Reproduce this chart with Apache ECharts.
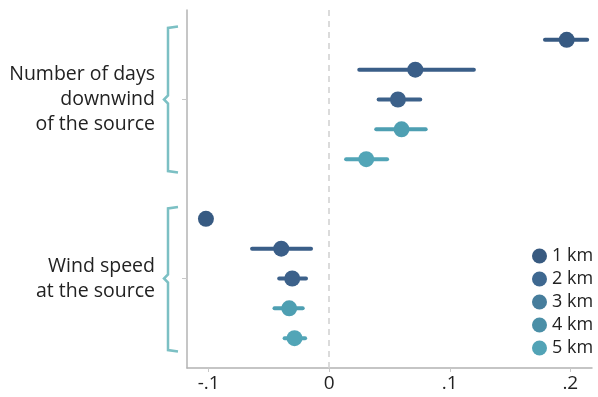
<!DOCTYPE html>
<html>
<head>
<meta charset="utf-8">
<script src="https://cdn.jsdelivr.net/npm/echarts@6/dist/echarts.min.js"></script>
<style>
html,body{margin:0;padding:0;background:#fff;}
#chart{width:598px;height:397px;}
</style>
</head>
<body>
<div id="chart"></div>
<script>
// Data
var distances = ['1 km', '2 km', '3 km', '4 km', '5 km'];
var groups = ['Number of days\ndownwind\nof the source', 'Wind speed\nat the source'];
var groupCenterRows = [2, 8];
// estimates per distance: [days downwind, wind speed]
var est1 = [0.197, -0.1023];
var est2 = [0.0714, -0.0398];
var est3 = [0.057, -0.0307];
var est4 = [0.060, -0.0332];
var est5 = [0.0307, -0.0288];
// confidence interval lows / highs
var lo1 = [0.179, -0.1023], hi1 = [0.214, -0.1023];
var lo2 = [0.0249, -0.064], hi2 = [0.120, -0.0151];
var lo3 = [0.041, -0.0415], hi3 = [0.0755, -0.0193];
var lo4 = [0.039, -0.0454], hi4 = [0.080, -0.022];
var lo5 = [0.014, -0.037], hi5 = [0.048, -0.020];
var xTicks = [-0.1, 0, 0.1, 0.2];
var xTickLabels = ['-.1', '0', '.1', '.2'];

var ests = [est1, est2, est3, est4, est5];
var los = [lo1, lo2, lo3, lo4, lo5];
var his = [hi1, hi2, hi3, hi4, hi5];
var plotColors = ['#375a82', '#3a5e88', '#3c618a', '#4e9fb2', '#52a5b7'];
var legendColors = ['#385a80', '#3e6890', '#467d9c', '#4b8fa7', '#52a3b6'];
var fontFam = '"Open Sans", Lato, sans-serif';
var xMin = -0.118, xMax = 0.218;

function rowOf(g, d) { return g * 6 + d; }

var series = [];
distances.forEach(function (name, d) {
  var errData = [], ptData = [];
  for (var g = 0; g < 2; g++) {
    errData.push([rowOf(g, d), los[d][g], his[d][g]]);
    ptData.push([ests[d][g], rowOf(g, d)]);
  }
  series.push({
    name: name,
    type: 'custom',
    encode: { x: [1, 2], y: 0 },
    data: errData,
    z: 2,
    renderItem: function (params, api) {
      var a = api.coord([api.value(1), api.value(0)]);
      var b = api.coord([api.value(2), api.value(0)]);
      return {
        type: 'line',
        shape: { x1: a[0], y1: a[1], x2: b[0], y2: b[1] },
        style: { stroke: plotColors[d], lineWidth: 4, lineCap: 'round' }
      };
    }
  });
  series.push({
    name: name,
    type: 'scatter',
    symbol: 'circle',
    symbolSize: 16,
    itemStyle: { color: plotColors[d], opacity: 1 },
    data: ptData,
    z: 3
  });
});

// group brackets
series.push({
  type: 'custom',
  silent: true,
  clip: false,
  encode: { x: 0, y: [1, 2, 3] },
  data: [[xMin, -0.45, 4.45, 2], [xMin, 5.6, 10.45, 8]],
  renderItem: function (params, api) {
    var top = api.coord([api.value(0), api.value(1)]);
    var bot = api.coord([api.value(0), api.value(2)]);
    var mid = api.coord([api.value(0), api.value(3)]);
    var ax = top[0];
    var xv = ax - 19, xh = ax - 9, xp = ax - 23;
    return {
      type: 'polyline',
      shape: { points: [
        [xh, top[1]], [xv, top[1] + 1.5], [xv, mid[1] - 4], [xp, mid[1]],
        [xv, mid[1] + 4], [xv, bot[1] - 1.5], [xh, bot[1]]
      ] },
      style: { stroke: '#7cc0c4', lineWidth: 2.5, fill: null, lineJoin: 'miter' }
    };
  }
});

// zero reference line
series.push({
  type: 'line',
  data: [],
  silent: true,
  markLine: {
    silent: true,
    symbol: 'none',
    label: { show: false },
    lineStyle: { color: '#cfcfcf', type: [6, 5], width: 1.5 },
    data: [{ xAxis: 0 }]
  }
});

var chart = echarts.init(document.getElementById('chart'), null, { renderer: 'canvas' });
chart.setOption({
  animation: false,
  backgroundColor: '#fff',
  textStyle: { fontFamily: fontFam },
  grid: { left: 187, right: 6, top: 10, bottom: 29, containLabel: false },
  xAxis: {
    type: 'value',
    min: xMin,
    max: xMax,
    splitLine: { show: false },
    axisLine: { show: true, onZero: false, lineStyle: { color: '#b3b3b3', width: 1.5 } },
    axisTick: { show: true, customValues: xTicks, length: 4, lineStyle: { color: '#c8c8c8', width: 1 } },
    axisLabel: {
      customValues: xTicks,
      margin: 6,
      fontSize: 19,
      color: '#222',
      fontFamily: fontFam,
      formatter: function (v) {
        for (var i = 0; i < xTicks.length; i++) if (Math.abs(v - xTicks[i]) < 1e-9) return xTickLabels[i];
        return '';
      }
    }
  },
  yAxis: {
    type: 'value',
    inverse: true,
    min: -1,
    max: 11,
    splitLine: { show: false },
    axisLine: { show: true, onZero: false, lineStyle: { color: '#b3b3b3', width: 1.5 } },
    axisTick: { show: true, customValues: groupCenterRows, length: 5, lineStyle: { color: '#c8c8c8', width: 1 } },
    axisLabel: {
      customValues: groupCenterRows,
      margin: 32,
      fontSize: 19.5,
      lineHeight: 25,
      color: '#222',
      fontFamily: fontFam,
      align: 'right',
      formatter: function (v) {
        var i = groupCenterRows.indexOf(Math.round(v));
        return i >= 0 ? groups[i] : '';
      }
    }
  },
  legend: {
    orient: 'vertical',
    left: 527,
    top: 242,
    itemWidth: 15,
    itemHeight: 15,
    itemGap: 5,
    icon: 'circle',
    textStyle: { fontSize: 18, color: '#222', fontFamily: fontFam },
    data: distances.map(function (n, i) {
      return { name: n, icon: 'circle', itemStyle: { color: legendColors[i] } };
    })
  },
  series: series
});
</script>
</body>
</html>
